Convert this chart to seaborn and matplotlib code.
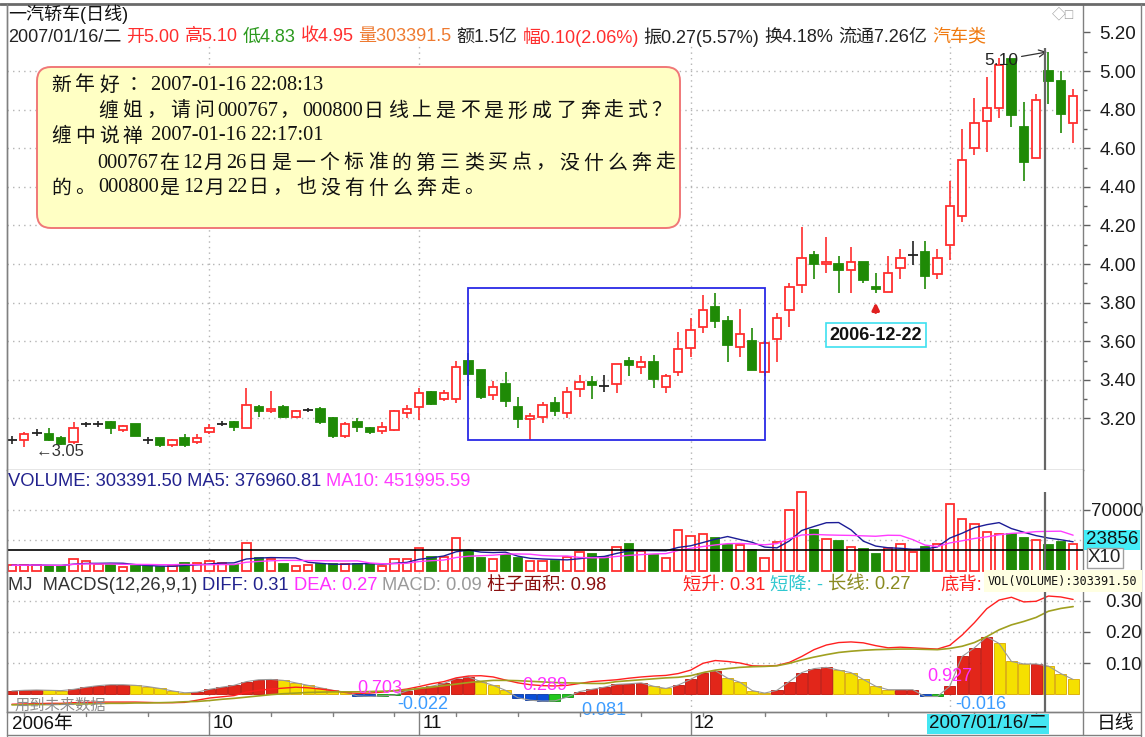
import numpy as np
import pandas as pd
import seaborn as sns
import matplotlib.pyplot as plt
from matplotlib.patches import Rectangle, FancyBboxPatch
from matplotlib.lines import Line2D
from matplotlib.transforms import IdentityTransform

# 一汽轿车 日线, 2006-09-08 .. 2007-01-18 (87 trading days)
holidays = ['2006-10-02', '2006-10-03', '2006-10-04', '2006-10-05', '2006-10-06',
            '2007-01-01', '2007-01-02', '2007-01-03']
dates = pd.bdate_range('2006-09-08', '2007-01-18', freq='C', holidays=holidays)

opens = [3.088, 3.09, 3.126, 3.12, 3.10, 3.08, 3.168, 3.168, 3.18, 3.14,
         3.17, 3.09, 3.10, 3.06, 3.10, 3.08, 3.13, 3.17, 3.18, 3.15,
         3.26, 3.24, 3.26, 3.21, 3.243, 3.25, 3.20, 3.11, 3.18, 3.15,
         3.135, 3.14, 3.23, 3.26, 3.335, 3.30, 3.30, 3.50, 3.45, 3.32,
         3.38, 3.26, 3.195, 3.21, 3.28, 3.23, 3.355, 3.39, 3.37, 3.38,
         3.50, 3.465, 3.495, 3.365, 3.44, 3.565, 3.675, 3.78, 3.705, 3.57,
         3.60, 3.44, 3.61, 3.76, 3.89, 4.045, 4.00, 4.00, 3.97, 4.01,
         3.88, 3.855, 3.98, 4.047, 4.06, 3.95, 4.10, 4.25, 4.60, 4.74,
         4.81, 5.06, 4.71, 4.55, 5.00, 4.95, 4.73]
highs = [3.11, 3.13, 3.145, 3.15, 3.11, 3.18, 3.18, 3.185, 3.185, 3.165,
         3.17, 3.105, 3.10, 3.095, 3.12, 3.12, 3.17, 3.185, 3.185, 3.36,
         3.27, 3.34, 3.27, 3.245, 3.255, 3.26, 3.21, 3.18, 3.20, 3.155,
         3.18, 3.245, 3.27, 3.36, 3.34, 3.35, 3.50, 3.54, 3.45, 3.395,
         3.44, 3.31, 3.23, 3.285, 3.31, 3.365, 3.425, 3.42, 3.425, 3.48,
         3.52, 3.525, 3.53, 3.43, 3.65, 3.72, 3.84, 3.85, 3.73, 3.765,
         3.67, 3.60, 3.745, 3.90, 4.19, 4.07, 4.14, 4.04, 4.09, 4.01,
         3.955, 4.04, 4.08, 4.12, 4.12, 4.08, 4.43, 4.70, 4.86, 4.97,
         5.07, 5.06, 4.84, 4.88, 5.10, 5.00, 4.905]
lows = [3.07, 3.05, 3.11, 3.085, 3.06, 3.07, 3.155, 3.155, 3.12, 3.13,
        3.11, 3.07, 3.05, 3.05, 3.05, 3.07, 3.12, 3.16, 3.135, 3.15,
        3.21, 3.23, 3.20, 3.20, 3.235, 3.17, 3.10, 3.10, 3.13, 3.12,
        3.12, 3.135, 3.20, 3.19, 3.27, 3.29, 3.28, 3.37, 3.30, 3.295,
        3.26, 3.15, 3.09, 3.175, 3.215, 3.20, 3.31, 3.30, 3.335, 3.33,
        3.42, 3.43, 3.36, 3.33, 3.42, 3.52, 3.645, 3.67, 3.49, 3.52,
        3.45, 3.42, 3.49, 3.675, 3.85, 3.92, 3.955, 3.85, 3.85, 3.90,
        3.85, 3.855, 3.925, 3.995, 3.87, 3.925, 4.02, 4.22, 4.565, 4.58,
        4.755, 4.71, 4.43, 4.548, 4.83, 4.68, 4.625]
closes = [3.09, 3.12, 3.127, 3.09, 3.07, 3.15, 3.17, 3.17, 3.15, 3.16,
          3.11, 3.087, 3.06, 3.09, 3.06, 3.10, 3.15, 3.172, 3.155, 3.27,
          3.24, 3.25, 3.21, 3.24, 3.245, 3.18, 3.11, 3.17, 3.155, 3.13,
          3.155, 3.24, 3.25, 3.33, 3.275, 3.33, 3.465, 3.43, 3.31, 3.365,
          3.29, 3.195, 3.215, 3.27, 3.24, 3.335, 3.39, 3.375, 3.366, 3.48,
          3.477, 3.49, 3.405, 3.42, 3.56, 3.66, 3.76, 3.705, 3.58, 3.64,
          3.45, 3.59, 3.72, 3.88, 4.03, 4.00, 4.01, 3.97, 4.01, 3.915,
          3.87, 3.955, 4.03, 4.047, 3.94, 4.03, 4.30, 4.54, 4.73, 4.81,
          5.03, 4.77, 4.53, 4.85, 4.95, 4.775, 4.87]
# volume, shown in units of 10 shares ("X10")
volumes = [6600, 6600, 7400, 5800, 5800, 13600, 10900, 7800, 7000, 5100,
           5800, 5800, 4700, 5800, 9700, 9300, 10900, 9700, 7000, 31900,
           14800, 13600, 8600, 6200, 7000, 8600, 8600, 8600, 8600, 7800,
           5800, 13600, 13600, 26400, 16300, 16300, 37700, 23300, 14800, 13600,
           18700, 14800, 10900, 10900, 10900, 16300, 21400, 19400, 15600, 28000,
           31100, 23300, 18700, 14800, 47400, 40400, 42000, 37700, 30300, 30300,
           24100, 14800, 33100, 70000, 90200, 47400, 36200, 34200, 28000, 25300,
           19400, 26400, 31100, 22200, 27200, 31100, 77000, 59100, 54400, 44300,
           42800, 42800, 38100, 35000, 30339, 33100, 31100]
diff = [-0.033, -0.032, -0.031, -0.030, -0.030, -0.028, -0.027, -0.026, -0.026, -0.026,
        -0.026, -0.027, -0.028, -0.028, -0.027, -0.020, -0.013, -0.009, -0.005, 0.006,
        0.012, 0.016, 0.019, 0.022, 0.020, 0.016, 0.011, 0.005, 0.002, 0.003,
        0.006, 0.011, 0.016, 0.024, 0.033, 0.040, 0.052, 0.058, 0.059, 0.055,
        0.045, 0.036, 0.030, 0.027, 0.026, 0.028, 0.034, 0.040, 0.043, 0.046,
        0.051, 0.055, 0.058, 0.060, 0.066, 0.077, 0.099, 0.108, 0.105, 0.100,
        0.091, 0.090, 0.092, 0.102, 0.121, 0.143, 0.158, 0.166, 0.168, 0.165,
        0.156, 0.149, 0.151, 0.149, 0.147, 0.145, 0.157, 0.190, 0.230, 0.275,
        0.303, 0.312, 0.297, 0.299, 0.316, 0.313, 0.305]
dea = [-0.035, -0.035, -0.034, -0.034, -0.033, -0.032, -0.032, -0.031, -0.030, -0.030,
       -0.029, -0.029, -0.028, -0.027, -0.025, -0.024, -0.021, -0.017, -0.014, -0.010,
       -0.006, -0.002, 0.001, 0.003, 0.005, 0.006, 0.007, 0.007, 0.007, 0.008,
       0.009, 0.010, 0.013, 0.018, 0.022, 0.027, 0.032, 0.037, 0.041, 0.044,
       0.044, 0.043, 0.041, 0.039, 0.037, 0.036, 0.035, 0.034, 0.034, 0.040,
       0.043, 0.046, 0.049, 0.052, 0.054, 0.059, 0.069, 0.077, 0.082, 0.086,
       0.088, 0.089, 0.091, 0.099, 0.110, 0.119, 0.127, 0.134, 0.138, 0.141,
       0.143, 0.144, 0.145, 0.145, 0.144, 0.143, 0.147, 0.154, 0.166, 0.185,
       0.207, 0.223, 0.234, 0.247, 0.267, 0.276, 0.282]
macd_bar = [0.010, 0.012, 0.013, 0.012, 0.011, 0.015, 0.022, 0.027, 0.030, 0.030,
            0.028, 0.024, 0.018, 0.010, 0.004, 0.006, 0.015, 0.022, 0.028, 0.040,
            0.046, 0.047, 0.044, 0.036, 0.028, 0.020, 0.012, 0.006, -0.006, -0.008,
            -0.006, -0.004, 0.010, 0.018, 0.025, 0.034, 0.050, 0.055, 0.040, 0.028,
            0.012, -0.012, -0.020, -0.023, -0.022, -0.010, 0.008, 0.015, 0.022, 0.031,
            0.033, 0.036, 0.025, 0.018, 0.029, 0.047, 0.069, 0.075, 0.051, 0.038,
            0.011, 0.003, 0.012, 0.040, 0.069, 0.082, 0.086, 0.077, 0.069, 0.047,
            0.025, 0.014, 0.014, 0.014, -0.008, -0.008, 0.025, 0.121, 0.149, 0.185,
            0.163, 0.105, 0.097, 0.097, 0.090, 0.066, 0.047]

price_ticks = [3.20, 3.40, 3.60, 3.80, 4.00, 4.20, 4.40, 4.60, 4.80, 5.00, 5.20]
vol_grid = [35000, 70000]
macd_ticks = [0.10, 0.20, 0.30]

W, H = 1145, 737
SANS = ['Liberation Sans', 'Noto Sans CJK SC', 'DejaVu Sans']
SERIF = ['Liberation Serif', 'Noto Sans CJK SC', 'DejaVu Sans']
RED, GREEN, GRID = '#ff2e2e', '#1f8a06', '#b4b4b4'

sns.set_theme(style='white')
plt.rcParams['font.family'] = SANS

df = pd.DataFrame({'date': dates, 'open': opens, 'high': highs, 'low': lows,
                   'close': closes, 'vol': volumes, 'diff': diff, 'dea': dea, 'bar': macd_bar})
df['i'] = np.arange(len(df))
df['up'] = df['close'] >= df['open']
df['cross'] = (df['close'] - df['open']).abs() < 0.006
df['ma5'] = df['vol'].rolling(5, min_periods=1).mean()
df['ma10'] = df['vol'].rolling(10, min_periods=1).mean()
n = len(df)
month_idx = [i for i in range(1, n) if df['date'][i].month != df['date'][i - 1].month]
XL = (-0.4, n - 0.2)
cur = 83.7   # cursor on 2007/01/16


def fx(x):
    return x / W


def fy(y):
    return 1 - y / H


fig = plt.figure(figsize=(W / 100, H / 100), dpi=100)
ax_p = fig.add_axes([fx(7), fy(470), 1076 / W, 465 / H])
ax_v = fig.add_axes([fx(7), fy(572), 1076 / W, 102 / H])
ax_m = fig.add_axes([fx(7), fy(712), 1076 / W, 140 / H])

for ax in (ax_p, ax_v, ax_m):
    ax.set_xlim(*XL)
    ax.set_xticks([])
    ax.yaxis.tick_right()
    for s in ax.spines.values():
        s.set_color('#808080')
        s.set_linewidth(1)
    ax.tick_params(axis='y', direction='out', length=5, width=1, color='#606060',
                   labelsize=13.5, labelcolor='#1a1a1a')
ax_p.spines['top'].set_visible(False)
ax_v.spines['top'].set_visible(False)
ax_m.spines['top'].set_visible(False)
ax_v.spines['bottom'].set_visible(False)

# ---- price panel
ax_p.set_ylim(2.933, 5.342)
ax_p.hlines(price_ticks[:-1], *XL, colors=GRID, linestyles=(0, (1, 3)), lw=1, zorder=0)
ax_p.vlines(month_idx, 2.933, 5.13, colors=GRID, linestyles=(0, (1, 3)), lw=1, zorder=0)
ax_p.set_yticks(price_ticks)
ax_p.set_yticklabels([f'{v:.2f}' for v in price_ticks])
ax_p.set_yticks([v + 0.1 for v in price_ticks[:-1]], minor=True)
ax_p.tick_params(axis='y', which='major', pad=7)
ax_p.tick_params(axis='y', which='minor', direction='out', length=3, color='#606060')

body = df[~df['cross']]
wick_col = np.where(df['cross'], '#222222', np.where(df['up'], RED, GREEN))
ax_p.vlines(df['i'], df['low'], df['high'], colors=wick_col, lw=1.2, zorder=2)
ax_p.bar(body['i'], (body['close'] - body['open']).abs(),
         bottom=body[['open', 'close']].min(axis=1), width=0.68,
         color=np.where(body['up'], 'white', GREEN),
         edgecolor=np.where(body['up'], RED, GREEN), lw=1.3, zorder=3)
cr = df[df['cross']]
ax_p.hlines(cr['close'], cr['i'] - 0.4, cr['i'] + 0.4, colors='#222222', lw=1.3, zorder=3)

ax_p.add_patch(Rectangle((37, 3.088), 24, 0.788, fill=False, ec='#2a2ae6', lw=1.3, zorder=4))
ax_p.text(1.9, 3.031, '←3.05', fontsize=12, color='#333333', va='center', ha='left')
ax_p.annotate('5.10', xy=(84, 5.10), xytext=(78.8, 5.057), fontsize=12.5, color='#222222',
              va='center', ha='left',
              arrowprops=dict(arrowstyle='->', color='#333333', lw=0.9, shrinkA=0, shrinkB=1))
ax_p.annotate('', xy=(70, 3.815), xytext=(70, 3.735),
              arrowprops=dict(arrowstyle='-|>', color='#e02020', lw=2.2, mutation_scale=10))
ax_p.text(70, 3.632, '2006-12-22', fontsize=13, fontweight='bold', color='#111111',
          ha='center', va='center',
          bbox=dict(boxstyle='square,pad=0.2', fc='white', ec='#3ee0f0', lw=1.2))
ax_p.vlines(cur, 2.933, 5.12, colors='#666666', lw=1.6, zorder=5)

# ---- volume panel
ax_v.set_ylim(-1150, 115900)
ax_v.hlines(vol_grid, *XL, colors=GRID, linestyles=(0, (1, 3)), lw=1, zorder=0)
ax_v.vlines(month_idx, 0, 115900, colors=GRID, linestyles=(0, (1, 3)), lw=1, zorder=0)
ax_v.bar(df['i'], df['vol'], width=0.68, color=np.where(df['up'], 'white', GREEN),
         edgecolor=np.where(df['up'], RED, GREEN), lw=1.3, zorder=2)
sns.lineplot(data=df, x='i', y='ma5', ax=ax_v, color='#1c1c96', lw=1, zorder=3, legend=False)
sns.lineplot(data=df, x='i', y='ma10', ax=ax_v, color='#ff3cff', lw=1, zorder=3, legend=False)
ax_v.axhline(23856, color='black', lw=1.2, zorder=4)
ax_v.vlines(cur, 0, 90650, colors='#666666', lw=1.6, zorder=5)
ax_v.set_yticks([70000])
ax_v.set_yticklabels(['70000'])
ax_v.tick_params(axis='y', pad=1)
ax_v.set_xlabel('')
ax_v.set_ylabel('')

# ---- MACD panel
ax_m.set_ylim(-0.058, 0.3935)
ax_m.hlines(macd_ticks, *XL, colors=GRID, linestyles=(0, (1, 3)), lw=1, zorder=0)
ax_m.vlines(month_idx, -0.058, 0.3935, colors=GRID, linestyles=(0, (1, 3)), lw=1, zorder=0)
rising = df['bar'].diff().fillna(0) >= 0
bar_col = np.where(df['bar'] >= 0, np.where(rising, '#e2261a', '#f5e000'),
                   np.where(rising, '#22c81e', '#0a4fd8'))
bar_edge = np.where(df['bar'] >= 0, np.where(rising, '#c01008', '#d8a800'),
                    np.where(rising, '#109010', '#0838a0'))
ax_m.bar(df['i'], df['bar'], width=0.9, color=bar_col, edgecolor=bar_edge, lw=0.6, zorder=2)
ax_m.plot(df['i'], df['bar'], color='#9a9a9a', lw=0.8, zorder=2)
sns.lineplot(data=df, x='i', y='diff', ax=ax_m, color='#ff2020', lw=1, zorder=3, legend=False)
sns.lineplot(data=df, x='i', y='dea', ax=ax_m, color='#a0a020', lw=1.2, zorder=3, legend=False)
ax_m.vlines(cur, -0.058, 0.335, colors='#666666', lw=1.6, zorder=5)
ax_m.set_yticks(macd_ticks)
ax_m.set_yticklabels([f'{v:.2f}' for v in macd_ticks])
ax_m.tick_params(axis='y', pad=11)
ax_m.set_xlabel('')
ax_m.set_ylabel('')
for xi, yv, s, c in [(29.8, 0.019, '0.703', '#ff30ff'), (33.3, -0.035, '-0.022', '#3c9cff'),
                     (43.2, 0.029, '0.289', '#ff30ff'), (48.0, -0.052, '0.081', '#3c9cff'),
                     (76.0, 0.055, '0.927', '#ff30ff'), (78.5, -0.035, '-0.016', '#3c9cff')]:
    ax_m.text(xi, yv, s, color=c, fontsize=13, ha='center', va='center', zorder=6)
ax_m.text(0.2, -0.036, '用到未来数据', color='#8c8c8c', fontsize=11, ha='left', va='center')

# ---- frame and header
def fline(x0, y0, x1, y1, color='#808080', lw=1):
    fig.add_artist(Line2D([fx(x0), fx(x1)], [fy(y0), fy(y1)], transform=fig.transFigure,
                          color=color, lw=lw))


def row(x, y, parts, size=12.5, family=SANS, gap=5):
    r = fig.canvas.get_renderer()
    for s, c in parts:
        t = fig.text(fx(x), fy(y), s, color=c, fontsize=size, family=family,
                     va='center', ha='left')
        x += t.get_window_extent(renderer=r).width + gap
    return x


def chat_line(x, y, s, cjk_step=24):
    # CJK glyphs sit on a wider grid than the serif digits, like the original box
    r = fig.canvas.get_renderer()
    run = ''
    for ch in s + '\0':
        if ch != '\0' and ord(ch) < 0x2e80:
            run += ch
            continue
        if run:
            t = fig.text(fx(x), fy(y), run, fontsize=14.7, family=SERIF, color='#111111',
                         va='center', ha='left', zorder=11)
            x += t.get_window_extent(renderer=r).width
            run = ''
        if ch != '\0':
            fig.text(fx(x + 1), fy(y), ch, fontsize=14.3, family=SANS, color='#111111',
                     va='center', ha='left', zorder=11)
            x += cjk_step


fline(0, 4, W, 4, '#6a6a6a', 2)
fline(7, 4, 7, 736)
fline(1141, 4, 1141, 736)
fline(7, 712, 1141, 712)
fline(7, 735, 1141, 735)
fline(1083, 712, 1083, 735)

fig.text(fx(8), fy(14), '一汽轿车(日线)', fontsize=13, color='#111111', va='center')
fig.text(fx(1052), fy(15), '◇□', fontsize=10, color='#9a9a9a', va='center')
row(8, 37, [('2007/01/16/二', '#222222'), ('开5.00', RED), ('高5.10', RED), ('低4.83', '#2c9a1e'),
            ('收4.95', RED), ('量303391.5', '#ee7a30'), ('额1.5亿', '#222222'),
            ('幅0.10(2.06%)', RED), ('振0.27(5.57%)', '#222222'), ('换4.18%', '#222222'),
            ('流通7.26亿', '#222222'), ('汽车类', '#f07a10')], size=13)
row(8, 481, [('VOLUME: 303391.50 MA5: 376960.81', '#22228e'), ('MA10: 451995.59', '#ff3cff')],
    size=13.2)
row(8, 585, [('MJ  MACDS(12,26,9,1)', '#333333'), ('DIFF: 0.31', '#22228e'),
             ('DEA: 0.27', '#ff30ff'), ('MACD: 0.09', '#9a9a9a'), ('柱子面积: 0.98', '#8a1010')],
    size=13.2)
row(683, 585, [('短升: 0.31', '#ff2020'), ('短降: -', '#30c8d0'), ('长线: 0.27', '#8a8a20')],
    size=13.2)
fig.text(fx(940), fy(585), '底背:', fontsize=13.2, color='#ff2020', va='center')
fig.text(fx(988), fy(581), 'VOL(VOLUME):303391.50', fontsize=8.5, family='DejaVu Sans Mono',
         color='#111111', va='center',
         bbox=dict(boxstyle='square,pad=0.35', fc='#ffffe2', ec='none'))

# right-side boxes
fig.text(fx(1086), fy(540), '23856', fontsize=13.5, color='#111111', va='center',
         bbox=dict(boxstyle='square,pad=0.1', fc='#44eef8', ec='none'))
fig.text(fx(1088), fy(558), 'X10', fontsize=13.5, color='#222222', va='center',
         bbox=dict(boxstyle='square,pad=0.08', fc='white', ec='#a0a0a0', lw=1))

# date row
labels = [(12, '2006年')]
for k, mi in enumerate(month_idx):
    xp = 7 + (mi - XL[0]) * 1076 / (XL[1] - XL[0])
    if k < 3:
        fline(xp, 712, xp, 735)
        labels.append((xp + 3, str(df['date'][mi].month)))
for xp, s in labels:
    fig.text(fx(xp), fy(724), s, fontsize=13.5, color='#111111', va='center')
for i in range(1, n):
    if df['date'][i].weekday() == 0:
        xp = 7 + (i - XL[0]) * 1076 / (XL[1] - XL[0])
        fline(xp, 712, xp, 716)
fig.text(fx(929), fy(724), '2007/01/16/二', fontsize=13.5, color='#111111', va='center',
         bbox=dict(boxstyle='square,pad=0.1', fc='#44e6f2', ec='none'))
fig.text(fx(1097), fy(724), '日线', fontsize=13.5, color='#111111', va='center')

# chat box
box = FancyBboxPatch((37, H - 228), 643, 161, boxstyle='round,pad=0,rounding_size=14',
                     transform=IdentityTransform(), fc='#ffffc4', ec='#f07878', lw=1.4, zorder=10)
fig.add_artist(box)
chat_line(50, 85, '新年好 ：2007-01-16 22:08:13')
chat_line(97, 111, '缠姐，请问000767，000800日线上是不是形成了奔走式？')
chat_line(50, 136, '缠中说禅 2007-01-16 22:17:01')
chat_line(97, 163, '000767在12月26日是一个标准的第三类买点，没什么奔走')
chat_line(50, 188, '的。000800是12月22日，也没有什么奔走。')

fig.savefig('out.png', dpi=100, facecolor='white')
